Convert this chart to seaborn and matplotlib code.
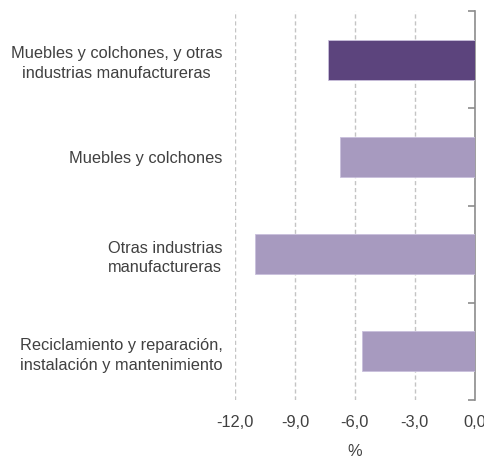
import matplotlib
matplotlib.use("Agg")
import matplotlib.pyplot as plt
import seaborn as sns
import pandas as pd
from matplotlib.ticker import FixedLocator, FuncFormatter

categorias = [
    "Muebles y colchones, y otras\nindustrias manufactureras",
    "Muebles y colchones",
    "Otras industrias\nmanufactureras",
    "Reciclamiento y reparación,\ninstalación y mantenimiento",
]
variacion = [-7.35, -6.75, -11.0, -5.65]
colores = ["#5b3a87", "#a594c5", "#a594c5", "#a594c5"]
ticks_x = [-12.0, -9.0, -6.0, -3.0, 0.0]

df = pd.DataFrame({"categoria": categorias, "variacion": variacion})

sns.set_theme(style="white")
plt.rcParams["font.family"] = ["Liberation Sans", "DejaVu Sans"]

fig = plt.figure(figsize=(4.85, 4.59), dpi=100)
ax = fig.add_axes([0.4845, 0.1285, 0.4945, 0.8475])

sns.barplot(data=df, x="variacion", y="categoria", hue="categoria",
            palette=colores, legend=False, width=0.41, orient="h",
            edgecolor="#c9bfdc", linewidth=0.6, ax=ax, zorder=3)

ax.set_xlim(-12, 0)
ax.set_ylim(3.5, -0.5)
ax.set_xticks(ticks_x)
ax.xaxis.set_major_formatter(FuncFormatter(lambda v, p: f"{v:.1f}".replace(".", ",")))
ax.grid(axis="x", color="#c4c4c4", linestyle=(0, (3, 2)), linewidth=1.0, zorder=0)
ax.grid(axis="y", visible=False)

for s in ["top", "bottom", "left"]:
    ax.spines[s].set_visible(False)
ax.spines["right"].set_visible(True)
ax.spines["right"].set_color("#8c8c8c")
ax.spines["right"].set_linewidth(1.2)

ax.yaxis.set_minor_locator(FixedLocator([-0.5, 0.5, 1.5, 2.5, 3.5]))
ax.tick_params(axis="y", which="major", left=False, right=False, length=0, pad=9,
               labelsize=11.8, labelcolor="#404040")
ax.tick_params(axis="y", which="minor", left=False, right=True, direction="in",
               length=5, width=1.2, color="#8c8c8c")
ax.tick_params(axis="x", which="major", bottom=False, length=0, pad=11,
               labelsize=11.8, labelcolor="#404040")
for lbl in ax.get_yticklabels():
    lbl.set_horizontalalignment("right")
    lbl.set_multialignment("center")
    lbl.set_linespacing(1.4)

ax.set_ylabel("")
ax.set_xlabel("%", fontsize=11.8, color="#404040")
ax.xaxis.set_label_coords(0.5, -0.112)

fig.savefig("out.png", dpi=100)
